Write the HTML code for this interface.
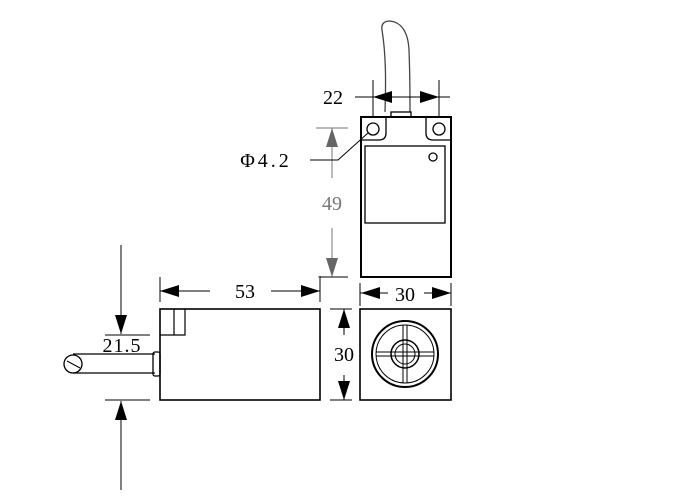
<!DOCTYPE html>
<html><head><style>body{margin:0;background:#fff}</style></head><body>
<svg width="700" height="499" viewBox="0 0 700 499" xmlns="http://www.w3.org/2000/svg" font-family="Liberation Serif, serif">
<g stroke="#000" fill="none" stroke-width="1.3">
<!-- top view -->
<path d="M385,112 C386,80 386,55 382,30 C381,24 384,21 390,21 C400,22 408,30 409,50 C410,75 410,95 410,112" stroke="#444"/>
<rect x="391" y="112" width="20" height="5" fill="#fff"/>
<rect x="361" y="117" width="90" height="160" stroke-width="2"/>
<path d="M361,140 L379,140 Q386,140 386,133 L386,117 M451,140 L433,140 Q426,140 426,133 L426,117"/>
<circle cx="373" cy="129" r="6"/><circle cx="439" cy="129" r="6"/>
<rect x="365" y="146" width="80" height="77"/>
<circle cx="433" cy="157" r="4"/>
<path d="M373,80V117M439,80V117M355,97H450" stroke-width="1"/>
<path d="M316,128H348M318,277H348" stroke="#777" stroke-width="1"/>
<path d="M332,128V178M332,228V277" stroke="#777" stroke-width="1"/>
<path d="M310,160H338L368,133" stroke-width="1"/>
<!-- side view -->
<rect x="160" y="309" width="160" height="91" stroke-width="1.6"/>
<path d="M160,335H185V309M174,309V335" stroke-width="1.2"/>
<path d="M155,354H73M155,373H73" />
<rect x="153" y="352" width="7" height="24" rx="2"/>
<circle cx="73" cy="364" r="9"/>
<path d="M67,361L80,368" stroke-width="1"/>
<path d="M105,335H150M105,400H150" stroke-width="1"/>
<path d="M121,245V334M121,401V490" stroke-width="1"/>
<path d="M160,277V302M320,276V302M320,277H348" stroke-width="1"/>
<path d="M160,291H210M271,291H320" stroke-width="1"/>
<!-- front view -->
<rect x="360" y="309" width="91" height="91" stroke-width="1.6"/>
<circle cx="405" cy="354" r="33" stroke-width="2"/>
<circle cx="405" cy="354" r="29" stroke-width="1"/>
<circle cx="405" cy="354" r="14" stroke-width="1.5"/>
<circle cx="405" cy="354" r="10" stroke-width="1"/>
<path d="M376,352H434M376,356H434M403,325V383M407,325V383" stroke-width="1"/>
<path d="M360,283V306M451,283V306" stroke-width="1"/>
<path d="M360,293H388M424,293H451" stroke-width="1"/>
<path d="M330,309H352M330,400H352" stroke-width="1"/>
<path d="M344,309V335M344,375V400" stroke-width="1"/>
</g>
<g fill="#000">
<path d="M373,97l19,-6v12z"/><path d="M439,97l-19,-6v12z"/>
<path d="M160,291l19,-6v12z"/><path d="M320,291l-19,-6v12z"/>
<path d="M361,293l19,-6v12z"/><path d="M451,293l-19,-6v12z"/>
<path d="M344,309l-6,19h12z"/><path d="M344,400l-6,-19h12z"/>
<path d="M121,334l-6,-19h12z"/><path d="M121,401l-6,19h12z"/>
</g>
<g fill="#666">
<path d="M332,128l-6,19h12z"/><path d="M332,277l-6,-19h12z"/>
</g>
<g font-size="20" fill="#000" text-anchor="middle">
<text x="333" y="104">22</text>
<text x="266" y="167" letter-spacing="3">Φ4.2</text>
<text x="332" y="210" fill="#777">49</text>
<text x="245" y="298">53</text>
<text x="405" y="301">30</text>
<text x="344" y="361">30</text>
<text x="122" y="352" letter-spacing="1">21.5</text>
</g>
</svg>
</body></html>
